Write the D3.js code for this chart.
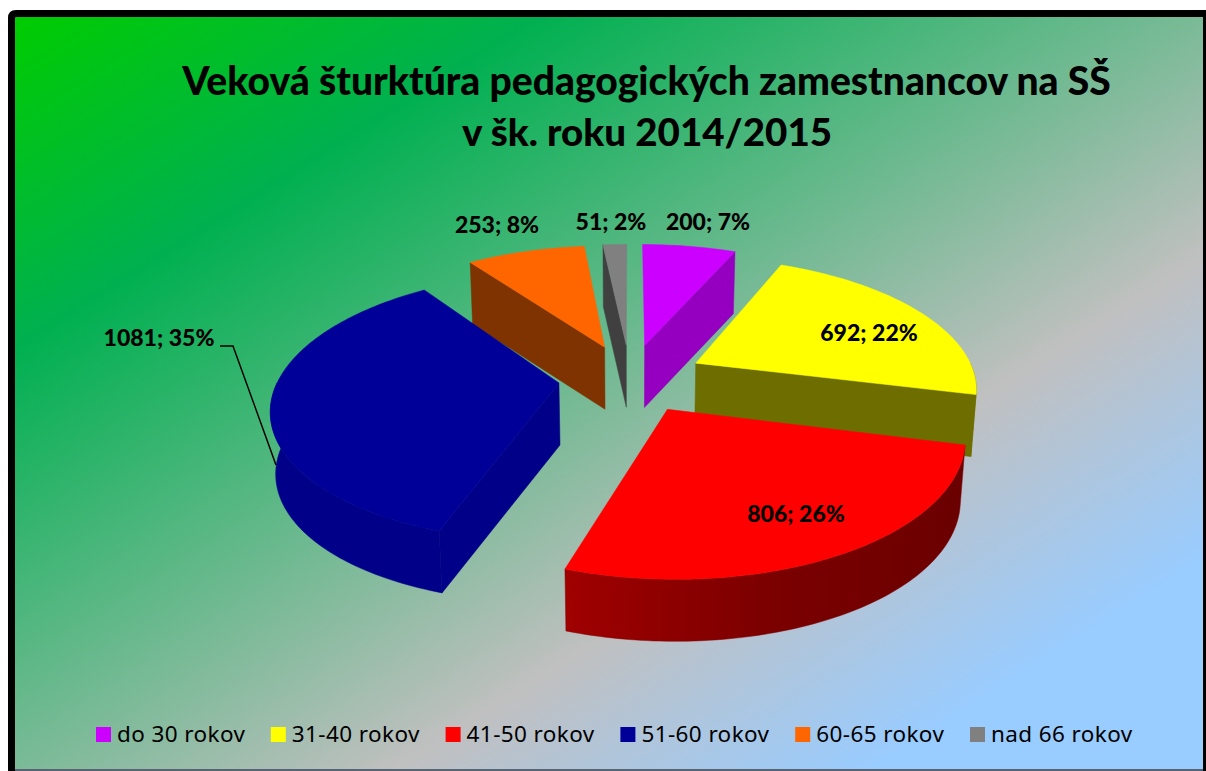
<!DOCTYPE html>
<html>
<head>
<meta charset="utf-8">
<script src="https://cdn.jsdelivr.net/npm/d3@7"></script>
<style>html,body{margin:0;padding:0;background:#fff;overflow:hidden}svg{display:block}</style>
</head>
<body>
<svg id="c" width="1206" height="771"></svg>
<script>
const categories = ["do 30 rokov","31-40 rokov","41-50 rokov","51-60 rokov","60-65 rokov","nad 66 rokov"];
const values = [200,692,806,1081,253,51];
const percents = [7,22,26,35,8,2];
const titleLines = ["Veková šturktúra pedagogických zamestnancov na SŠ","v šk. roku 2014/2015"];
const topColors = ["#cc00ff","#ffff00","#ff0000","#000099","#ff6600","#808080"];
const wallColors = ["#9500c0","#6e6e00","#840000","#000088","#7f3300","#404040"];
const explodeBy = [0.27,0.267,0.267,0.255,0.267,0.267];

// layout constants
const cx=630, cy=378, A=280, B=128.5, C=0.172, DEPTH=62, TAPER=0.985;
const labelCenters = [[708,222],[869,333],[796,514],[159,338],[497,225],[611,222]];

const svg=d3.select("#c");
const defs=svg.append("defs");
const L=1271, nx=0.535, ny=0.845;
const bg=defs.append("linearGradient").attr("id","bg").attr("gradientUnits","userSpaceOnUse")
  .attr("x1",15).attr("y1",17).attr("x2",15+L*nx).attr("y2",17+L*ny);
[[0,"#00cc00"],[0.22,"#00b050"],[0.66,"#c0c0c0"],[0.86,"#99ccff"],[1,"#99ccff"]].forEach(s=>
  bg.append("stop").attr("offset",s[0]).attr("stop-color",s[1]));
const rg=defs.append("linearGradient").attr("id","redWall").attr("x1",0).attr("x2",1).attr("y1",0).attr("y2",0);
[[0,"#a00000"],[0.5,"#7c0000"],[1,"#6a0000"]].forEach(s=>rg.append("stop").attr("offset",s[0]).attr("stop-color",s[1]));

svg.append("rect").attr("x",15).attr("y",17).attr("width",1188).attr("height",753).attr("fill","url(#bg)");
svg.append("path").attr("d","M11.5,771V18Q11.5,13.5,16,13.5H1206").attr("fill","none").attr("stroke","#000").attr("stroke-width",7);
svg.append("rect").attr("x",1203).attr("y",13).attr("width",3).attr("height",758).attr("fill","#000");
svg.append("rect").attr("x",15).attr("y",769).attr("width",1188).attr("height",2).attr("fill","#566474");

const pie=d3.pie().sort(null).startAngle(0).endAngle(2*Math.PI);
const arcs=pie(values);

function proj(a,b,bottom){
  const w=1+C*b;
  let x=A*a/w, y=-B*b/w;
  if(bottom){x*=TAPER; y+=DEPTH;}
  return [cx+x,cy+y];
}
function pt(d,theta,r,bottom){
  const mid=(d.startAngle+d.endAngle)/2;
  const ex=explodeBy[d.index];
  const a=ex*Math.sin(mid)+r*Math.sin(theta);
  const b=ex*Math.cos(mid)+r*Math.cos(theta);
  return proj(a,b,bottom);
}
const line=d3.line();
function arcPts(d,t0,t1,bottom){
  const n=Math.max(2,Math.ceil((t1-t0)/0.02));
  return d3.range(n+1).map(i=>pt(d,t0+(t1-t0)*i/n,1,bottom));
}
function draw(i){
  const d=arcs[i], s=d.startAngle, e=d.endAngle;
  const g=svg.append("g");
  const wall=i==2?"url(#redWall)":wallColors[i];
  [[s,s-Math.PI/2],[e,e+Math.PI/2]].forEach(([t,n])=>{
    if(Math.cos(n)<-0.02){
      g.append("path").attr("d",line([pt(d,0,0,false),pt(d,t,1,false),pt(d,t,1,true),pt(d,0,0,true)])+"Z")
       .attr("fill",wallColors[i]).attr("stroke",wallColors[i]).attr("stroke-width",.5);
    }
  });
  const t0=Math.max(s,Math.PI/2), t1=Math.min(e,3*Math.PI/2);
  if(t1>t0){
    g.append("path").attr("d",line(arcPts(d,t0,t1,false).concat(arcPts(d,t0,t1,true).reverse()))+"Z")
     .attr("fill",wall).attr("stroke",wallColors[i]).attr("stroke-width",.5);
  }
  g.append("path").attr("d",line([pt(d,0,0,false)].concat(arcPts(d,s,e,false)))+"Z")
   .attr("fill",topColors[i]).attr("stroke",topColors[i]).attr("stroke-width",.5);
}
[4,5,0,1,3,2].forEach(draw);

const FONT="Lato, Carlito, sans-serif";
svg.append("g").selectAll("text").data(titleLines).join("text")
  .attr("x",(d,i)=>i?647:646.5).attr("y",(d,i)=>95+i*51)
  .attr("text-anchor","middle").attr("font-family",FONT).attr("font-weight",900)
  .attr("font-size",(d,i)=>i?38.5:39).attr("fill","#000").text(d=>d);

svg.append("g").selectAll("text").data(values).join("text")
  .attr("x",(d,i)=>labelCenters[i][0]).attr("y",(d,i)=>labelCenters[i][1]+8)
  .attr("text-anchor","middle").attr("font-family",FONT).attr("font-weight",900)
  .attr("font-size",23).attr("fill","#000")
  .text((d,i)=>`${d}; ${percents[i]}%`);

svg.append("path").attr("d",d3.line()([[220,346],[233,346],[276,465]]))
  .attr("fill","none").attr("stroke","#000").attr("stroke-width",1.5);

const lx=d3.scalePoint().domain(categories).range([96,970]);
const lg=svg.append("g").selectAll("g").data(categories).join("g")
  .attr("transform",d=>`translate(${lx(d)},0)`);
lg.append("rect").attr("y",727).attr("width",15).attr("height",15).attr("fill",(d,i)=>topColors[i]);
lg.append("text").attr("x",21).attr("y",742).attr("font-family","'Noto Sans', 'Open Sans', sans-serif")
  .attr("font-size",22.5).attr("letter-spacing",0.4).attr("fill","#000").text(d=>d);
</script>
</body>
</html>
